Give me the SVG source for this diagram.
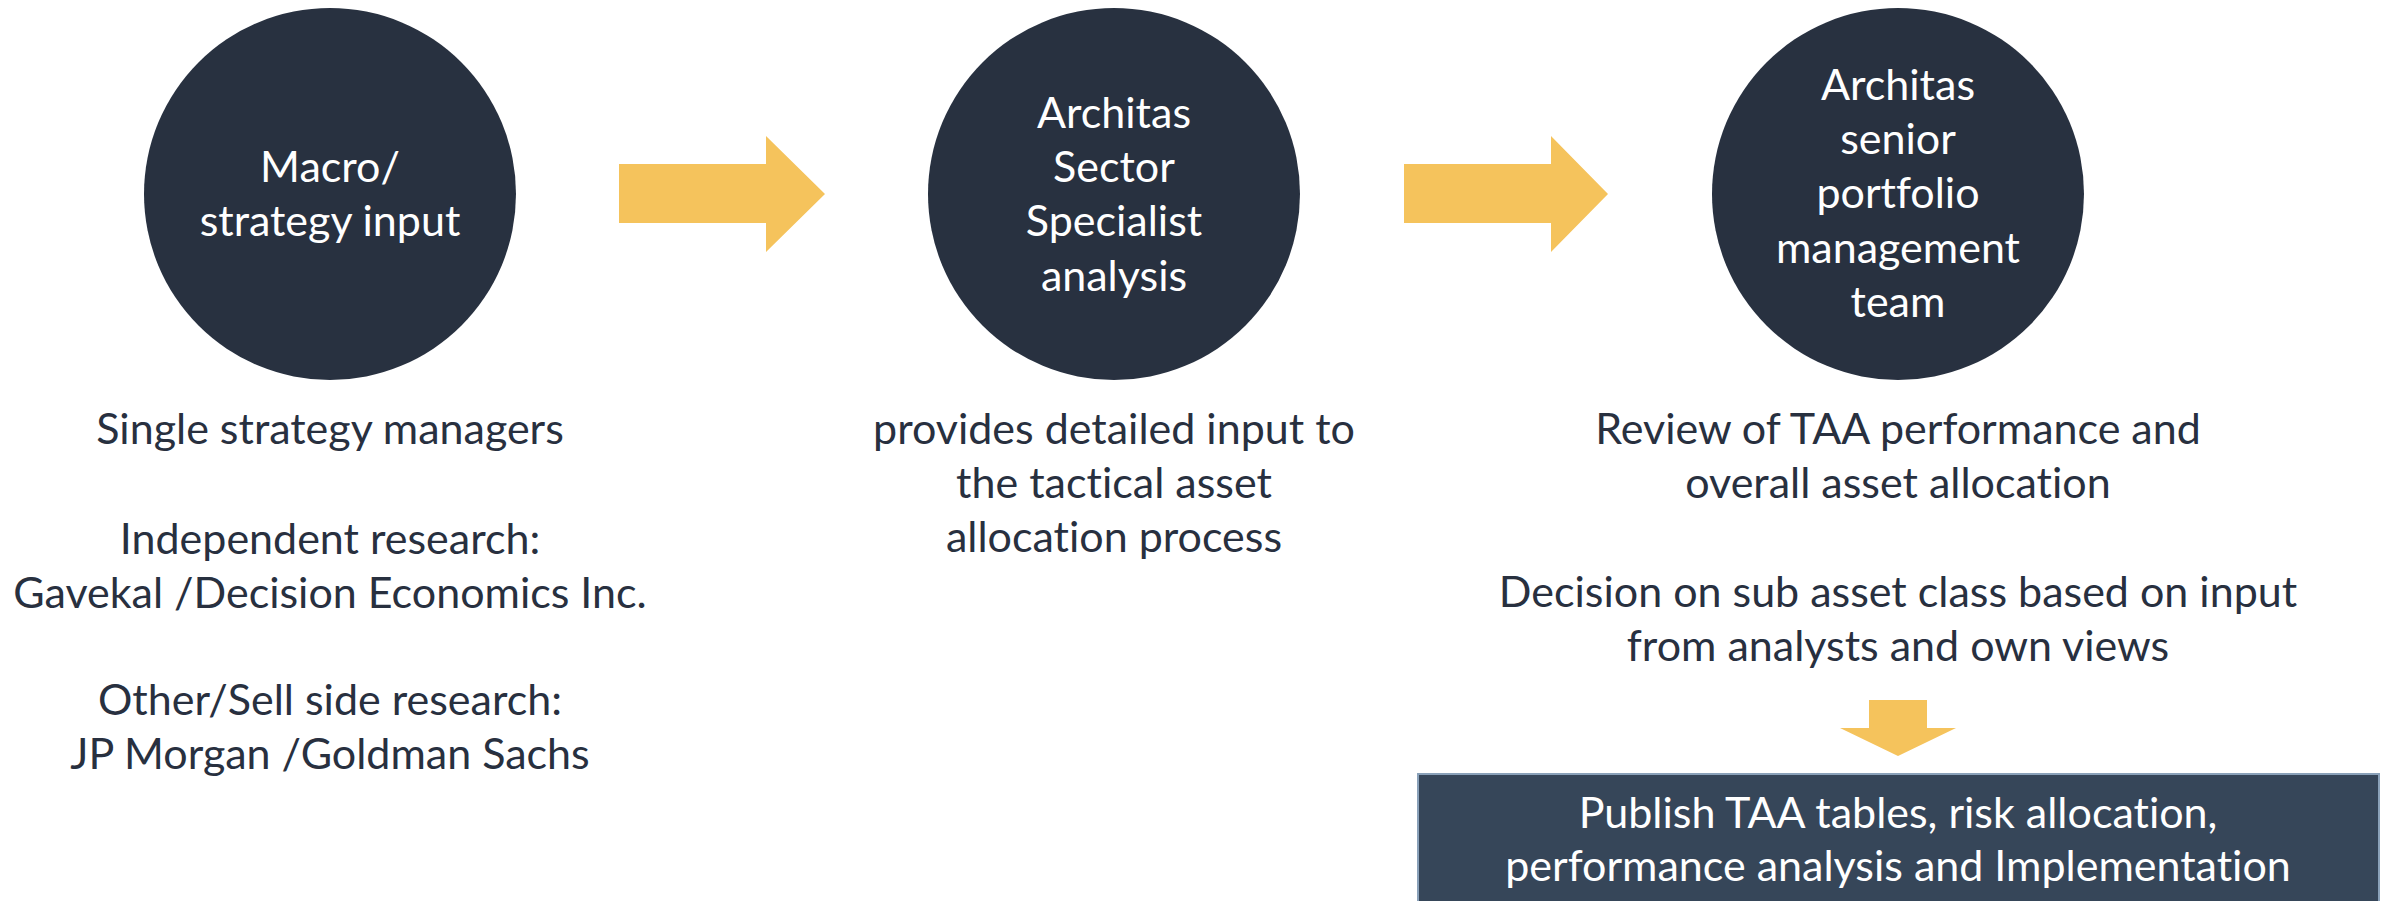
<svg xmlns="http://www.w3.org/2000/svg" width="2389" height="901" viewBox="0 0 2389 901">
  <style>
    .bubble { fill: #283140; }
    .flow { fill: #f5c35c; }
    .txt { font-family: Lato, "Liberation Sans", sans-serif; font-size: 43px; text-anchor: middle; font-variant-ligatures: none; font-feature-settings: "liga" 0, "dlig" 0; }
    .light { fill: #ffffff; }
    .dark { fill: #28303f; }
    .panel { fill: #364659; stroke: #8aa1b9; stroke-width: 2; }
  </style>
  <rect width="2389" height="901" fill="#ffffff"/>

  <!-- Stage 1 -->
  <g id="macro-input">
    <circle class="bubble" cx="330" cy="194" r="186"/>
    <text class="txt light" x="330" y="182">Macro/</text>
    <text class="txt light" x="330" y="236">strategy input</text>
  </g>
  <g id="macro-sources">
    <text class="txt dark" x="330" y="444">Single strategy managers</text>
    <text class="txt dark" x="330" y="554">Independent research:</text>
    <text class="txt dark" x="330" y="608">Gavekal /Decision Economics Inc.</text>
    <text class="txt dark" x="330" y="715">Other/Sell side research:</text>
    <text class="txt dark" x="330" y="769">JP Morgan /Goldman Sachs</text>
  </g>

  <!-- Stage 2 -->
  <g id="sector-specialist">
    <circle class="bubble" cx="1114" cy="194" r="186"/>
    <text class="txt light" x="1114" y="128">Architas</text>
    <text class="txt light" x="1114" y="182">Sector</text>
    <text class="txt light" x="1114" y="236">Specialist</text>
    <text class="txt light" x="1114" y="291">analysis</text>
  </g>
  <g id="sector-note">
    <text class="txt dark" x="1114" y="444">provides detailed input to</text>
    <text class="txt dark" x="1114" y="498">the tactical asset</text>
    <text class="txt dark" x="1114" y="552">allocation process</text>
  </g>

  <!-- Stage 3 -->
  <g id="senior-team">
    <circle class="bubble" cx="1898" cy="194" r="186"/>
    <text class="txt light" x="1898" y="100">Architas</text>
    <text class="txt light" x="1898" y="154">senior</text>
    <text class="txt light" x="1898" y="208">portfolio</text>
    <text class="txt light" x="1898" y="263">management</text>
    <text class="txt light" x="1898" y="317">team</text>
  </g>
  <g id="senior-notes">
    <text class="txt dark" x="1898" y="444">Review of TAA performance and</text>
    <text class="txt dark" x="1898" y="498">overall asset allocation</text>
    <text class="txt dark" x="1898" y="607">Decision on sub asset class based on input</text>
    <text class="txt dark" x="1898" y="661">from analysts and own views</text>
  </g>

  <!-- Output panel -->
  <g id="publish">
    <rect class="panel" x="1418" y="774" width="961" height="140"/>
    <text class="txt light" x="1898" y="828">Publish TAA tables, risk allocation,</text>
    <text class="txt light" x="1898" y="881">performance analysis and Implementation</text>
  </g>

  <!-- Block arrows between stages -->
  <g id="connectors">
    <polygon class="flow" points="619,164 766,164 766,136 825,194 766,252 766,223 619,223"/>
    <polygon class="flow" points="1404,164 1551,164 1551,136 1608,194 1551,252 1551,223 1404,223"/>
    <polygon class="flow" points="1869,700 1927,700 1927,728 1956,728 1898,756 1840,728 1869,728"/>
  </g>
</svg>
